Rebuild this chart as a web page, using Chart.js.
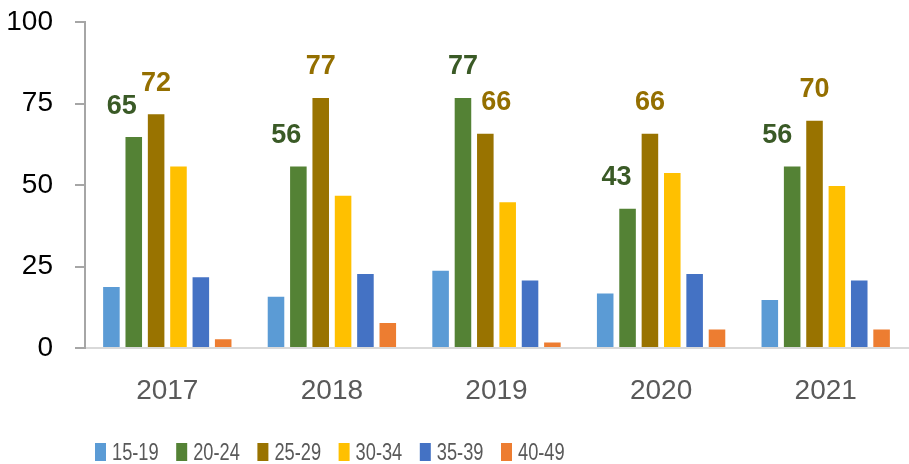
<!DOCTYPE html>
<html>
<head>
<meta charset="utf-8">
<script src="https://cdn.jsdelivr.net/npm/chart.js@4.4.1/dist/chart.umd.min.js"></script>
<style>
    html, body { margin: 0; padding: 0; background: #fff; }
    #wrap { width: 909px; height: 464px; }
</style>
</head>
<body>
<div id="wrap"><canvas id="chart"></canvas></div>
<script>
// Values
const years = ['2017', '2018', '2019', '2020', '2021'];
const ageGroups = ['15-19', '20-24', '25-29', '30-34', '35-39', '40-49'];
const age15_19 = [19, 16, 24, 17, 15];
const age20_24 = [65, 56, 77, 43, 56];
const age25_29 = [72, 77, 66, 66, 70];
const age30_34 = [56, 47, 45, 54, 50];
const age35_39 = [22, 23, 21, 23, 21];
const age40_49 = [3, 8, 2, 6, 6];
const yTicks = [0, 25, 50, 75, 100];

const barColors = ['#5B9BD5', '#548235', '#997300', '#FFC000', '#4472C4', '#ED7D31'];
const seriesValues = [age15_19, age20_24, age25_29, age30_34, age35_39, age40_49];

// Only the 20-24 and 25-29 bars carry value labels; they sit a little to the side
const labelled = {
    1: { color: '#3A5A26', shift: [-12, -12, 0, -11, -15] },
    2: { color: '#946F00', shift: [0, 0, 11, 0, 0] }
};

const valueLabels = {
    id: 'valueLabels',
    afterDatasetsDraw(chart) {
        const ctx = chart.ctx;
        ctx.save();
        ctx.font = 'bold 27px "Liberation Sans", Arial, sans-serif';
        ctx.textAlign = 'center';
        ctx.textBaseline = 'middle';
        Object.keys(labelled).forEach(k => {
            const idx = Number(k);
            const conf = labelled[idx];
            const meta = chart.getDatasetMeta(idx);
            ctx.fillStyle = conf.color;
            meta.data.forEach((bar, i) => {
                ctx.fillText(String(chart.data.datasets[idx].data[i]), bar.x + conf.shift[i], bar.y - 30);
            });
        });
        ctx.restore();
    }
};

// Legend drawn by hand: the original uses a narrow font and tall swatches
const narrowLegend = {
    id: 'narrowLegend',
    afterDraw(chart) {
        const ctx = chart.ctx;
        const step = 81.2;
        const top = 443;
        ctx.save();
        ctx.font = '24px "Liberation Sans", Arial, sans-serif';
        ctx.textBaseline = 'middle';
        chart.data.datasets.forEach((ds, i) => {
            const x = chart.chartArea.left + 10 + i * step;
            ctx.fillStyle = ds.backgroundColor;
            ctx.fillRect(x, top, 11, 18);
            ctx.save();
            ctx.translate(x + 17, top + 10);
            ctx.scale(0.76, 1);
            ctx.fillStyle = '#595959';
            ctx.fillText(ds.label, 0, 0);
            ctx.restore();
        });
        ctx.restore();
    }
};

const datasets = ageGroups.map((name, i) => ({
    label: name,
    data: seriesValues[i],
    backgroundColor: barColors[i],
    borderColor: 'rgba(255,255,255,0.7)',
    borderWidth: 1,
    categoryPercentage: 0.815,
    barPercentage: 0.83
}));

new Chart(document.getElementById('chart'), {
    type: 'bar',
    data: { labels: years, datasets },
    plugins: [valueLabels, narrowLegend],
    options: {
        responsive: true,
        maintainAspectRatio: false,
        animation: false,
        layout: { padding: { top: 22, right: 1, left: 0, bottom: 56 } },
        plugins: {
            tooltip: { enabled: false },
            legend: { display: false }
        },
        scales: {
            x: {
                grid: { display: false },
                border: { color: '#D9D9D9', width: 2 },
                afterFit: axis => { axis.height = 60; },
                ticks: {
                    color: '#595959',
                    padding: 18,
                    font: { family: '"Liberation Sans", Arial, sans-serif', size: 28 }
                }
            },
            y: {
                min: 0,
                max: 100,
                afterBuildTicks: axis => { axis.ticks = yTicks.map(v => ({ value: v })); },
                afterFit: axis => {
                    axis.width = 85;
                    axis.paddingTop = 0;
                    axis.paddingBottom = 0;
                },
                grid: {
                    drawOnChartArea: false,
                    drawTicks: true,
                    tickLength: 10,
                    color: '#A6A6A6',
                    lineWidth: 2
                },
                border: { color: '#A6A6A6', width: 2 },
                ticks: {
                    color: '#000000',
                    padding: 22,
                    font: { family: '"Liberation Sans", Arial, sans-serif', size: 28 }
                }
            }
        }
    }
});
</script>
</body>
</html>
